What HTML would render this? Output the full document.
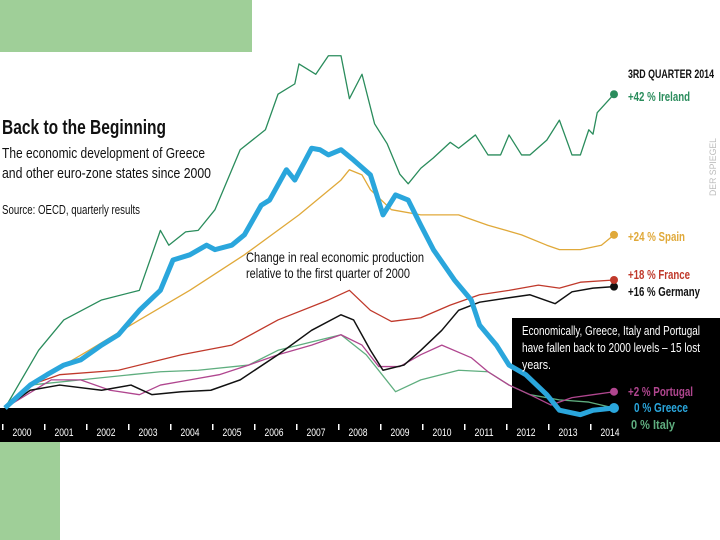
<!DOCTYPE html>
<html><head><meta charset="utf-8">
<style>
html,body{margin:0;padding:0;background:#fff;}
body{width:720px;height:540px;overflow:hidden;position:relative;font-family:"Liberation Sans Narrow","Liberation Sans",sans-serif;}
svg{position:absolute;left:0;top:0;}
</style></head>
<body>
<svg id="chart" width="720" height="540">
  <rect x="0" y="0" width="252" height="52" fill="#9fcf98"/>
  <rect x="0" y="440" width="60" height="100" fill="#9fcf98"/>
  <rect x="512" y="318" width="208" height="122" fill="#000"/>
  <rect x="0" y="408" width="720" height="34" fill="#000"/>
  <g id="lines"></g>
  <g id="xticks"></g>
  <text x="2" y="134" font-size="20" font-weight="bold" fill="#111" textLength="164" lengthAdjust="spacingAndGlyphs">Back to the Beginning</text>
  <text x="2" y="158" font-size="15" fill="#111" textLength="203" lengthAdjust="spacingAndGlyphs">The economic development of Greece</text>
  <text x="2" y="178" font-size="15" fill="#111" textLength="209" lengthAdjust="spacingAndGlyphs">and other euro-zone states since 2000</text>
  <text x="2" y="214" font-size="12.5" fill="#111" textLength="138" lengthAdjust="spacingAndGlyphs">Source: OECD, quarterly results</text>
  <text x="246" y="262" font-size="14" fill="#111" textLength="178" lengthAdjust="spacingAndGlyphs">Change in real economic production</text>
  <text x="246" y="278" font-size="14" fill="#111" textLength="164" lengthAdjust="spacingAndGlyphs">relative to the first quarter of 2000</text>
  <text x="628" y="78" font-size="11.5" font-weight="bold" fill="#111" textLength="86" lengthAdjust="spacingAndGlyphs">3RD QUARTER 2014</text>
  <text x="522" y="335" font-size="13" fill="#fff" textLength="178" lengthAdjust="spacingAndGlyphs">Economically, Greece, Italy and Portugal</text>
  <text x="522" y="352" font-size="13" fill="#fff" textLength="178" lengthAdjust="spacingAndGlyphs">have fallen back to 2000 levels – 15 lost</text>
  <text x="522" y="369" font-size="13" fill="#fff" textLength="29" lengthAdjust="spacingAndGlyphs">years.</text>
  <text x="0" y="0" font-size="9" fill="#bbb" transform="translate(716,196) rotate(-90)" textLength="58" lengthAdjust="spacingAndGlyphs">DER SPIEGEL</text>
  <g id="labels"></g>
</svg>
<script>
const years=[2000,2001,2002,2003,2004,2005,2006,2007,2008,2009,2010,2011,2012,2013,2014];
const seriesNames=["Italy","Portugal","Germany","France","Spain","Ireland","Greece"];
const irelandX=[2000,2000.8,2001.4,2002.3,2003.2,2003.7,2003.9,2004.3,2004.6,2005,2005.2,2005.6,2006.2,2006.5,2006.9,2007,2007.4,2007.7,2008,2008.2,2008.5,2008.8,2009.1,2009.4,2009.6,2009.9,2010.2,2010.6,2010.8,2011.2,2011.5,2011.8,2012,2012.3,2012.5,2012.9,2013.2,2013.5,2013.7,2013.9,2014,2014.1,2014.5];
const irelandY=[0,7.8,11.9,14.6,15.9,24,22,23.8,24,26.8,29.5,34.9,37.6,42.4,43.8,46.5,45.1,47.6,47.6,41.8,45.1,38.4,35.7,31.6,30.3,32.4,33.8,35.9,35.1,36.9,34.2,34.2,36.9,34.2,34.2,36.2,38.9,34.2,34.2,37.6,37,39.9,42.4];
const greeceX=[2000,2000.6,2001,2001.4,2001.8,2002.3,2002.7,2003.2,2003.7,2004,2004.4,2004.8,2005,2005.4,2005.7,2006.1,2006.3,2006.7,2006.9,2007.3,2007.5,2007.7,2008,2008.3,2008.7,2009,2009.3,2009.6,2009.9,2010.2,2010.7,2011.1,2011.3,2011.7,2012,2012.4,2012.9,2013.2,2013.7,2014,2014.5];
const greeceY=[0,3.1,4.5,5.8,6.5,8.5,9.9,13.2,15.9,20,20.7,22,21.4,22,23.4,27.4,28.1,32.2,30.8,35.1,34.9,34.2,34.9,33.5,31.5,26.1,28.8,28.1,24.7,21.4,17.3,14.6,11.2,8.5,5.8,4.5,1.8,-0.3,-0.9,-0.3,0];
const spainX=[2000,2000.8,2002,2003.2,2004.4,2005.7,2007,2008,2008.2,2008.5,2008.7,2009.2,2009.9,2010.8,2011.5,2012.3,2012.9,2013.2,2013.7,2014.2,2014.5];
const spainY=[0,3.8,7.8,11.9,15.9,20.7,26.1,30.8,32.2,31.5,29.5,26.8,26.1,26.1,24.7,23.4,22,21.4,21.4,22,23.4];
const franceX=[2000,2000.6,2001.3,2002.7,2004.2,2005.4,2006.5,2007.7,2008.2,2008.7,2009.2,2009.9,2010.6,2011.3,2012,2012.7,2013.2,2013.7,2014.5];
const franceY=[0,3.1,4.5,5.1,7.2,8.5,11.9,14.6,15.9,13.2,11.7,12.2,13.9,15.3,15.9,16.6,16.2,17,17.3];
const germanyX=[2000,2000.6,2001.3,2002.3,2003,2003.5,2004.2,2004.9,2005.6,2006.5,2007.3,2008,2008.3,2008.7,2009,2009.5,2009.9,2010.4,2010.8,2011.3,2012,2012.5,2013.1,2013.5,2014,2014.5];
const germanyY=[0,2.4,3.1,2.4,3.1,1.8,2.2,2.4,3.8,7.2,10.5,12.6,11.9,7.8,5.1,5.8,7.8,10.5,13.2,14.3,14.9,15.3,14.1,15.7,16.2,16.4];
const portugalX=[2000,2001.1,2001.8,2002.5,2003.2,2003.7,2004.4,2005.1,2005.8,2006.5,2007.3,2008,2008.5,2008.9,2009.4,2009.9,2010.4,2011.1,2011.5,2012,2012.5,2013,2013.5,2014,2014.5];
const portugalY=[0,3.8,3.8,2.4,1.8,3.1,3.8,4.5,5.8,7.2,8.5,9.9,8.5,5.6,5.6,7.2,8.5,6.8,4.9,3.1,1.8,0.4,1.4,1.8,2.2];
const italyX=[2000,2000.6,2001.8,2003,2003.7,2004.6,2005.8,2006.5,2007.5,2008,2008.6,2009.3,2009.9,2010.8,2011.5,2012,2012.5,2013.2,2013.9,2014.5];
const italyY=[0,3.1,3.8,4.5,4.9,5.1,5.8,7.8,9.2,9.9,7.2,2.2,3.8,5.1,4.9,3.1,1.8,1.1,0.8,0];
const finalLabels=["0 % Italy","+2 % Portugal","+16 % Germany","+18 % France","+24 % Spain","+42 % Ireland","0 % Greece"];

const NS="http://www.w3.org/2000/svg";
function xs(yr){return 5+(yr-2000)*42;}
function ys(v){return 408-v*7.4;}
const series=[
 {x:italyX,y:italyY,c:"#5fae7f",w:1.3,lx:631,ly:429,lw:44},
 {x:portugalX,y:portugalY,c:"#b0468f",w:1.3,lx:628,ly:396,lw:65},
 {x:germanyX,y:germanyY,c:"#111",w:1.5,lx:628,ly:296,lw:72},
 {x:franceX,y:franceY,c:"#c0392b",w:1.3,lx:628,ly:279,lw:62},
 {x:spainX,y:spainY,c:"#e0a93a",w:1.3,lx:628,ly:241,lw:57},
 {x:irelandX,y:irelandY,c:"#2a8c5c",w:1.3,lx:628,ly:101,lw:62},
 {x:greeceX,y:greeceY,c:"#2aa6dc",w:5,lx:634,ly:412,lw:54}
];
const lg=document.getElementById('lines');
const lb=document.getElementById('labels');
series.forEach((s,i)=>{
  const p=document.createElementNS(NS,'polyline');
  p.setAttribute('points',s.x.map((xx,j)=>xs(xx)+','+ys(s.y[j])).join(' '));
  p.setAttribute('fill','none');p.setAttribute('stroke',s.c);p.setAttribute('stroke-width',s.w);
  p.setAttribute('stroke-linejoin','round');
  
  
  lg.appendChild(p);
  const last=s.x.length-1;
  const d=document.createElementNS(NS,'circle');
  d.setAttribute('cx',xs(s.x[last]));d.setAttribute('cy',ys(s.y[last]));
  d.setAttribute('r',i===6?5:4);d.setAttribute('fill',s.c);
  
  
  lg.appendChild(d);
  const t=document.createElementNS(NS,'text');
  t.setAttribute('x',s.lx);t.setAttribute('y',s.ly);
  t.setAttribute('font-size','13');t.setAttribute('font-weight','bold');
  t.setAttribute('fill',i===2?'#111':s.c);
  t.setAttribute('textLength',s.lw);t.setAttribute('lengthAdjust','spacingAndGlyphs');
  t.textContent=finalLabels[i];
  
  
  lb.appendChild(t);
});
const xt=document.getElementById('xticks');
years.forEach(yr=>{
  const t=document.createElementNS(NS,'text');
  t.setAttribute('x',xs(yr)+17);t.setAttribute('y',436);
  t.setAttribute('font-size','11');t.setAttribute('fill','#fff');t.setAttribute('text-anchor','middle');
  t.setAttribute('textLength','19');t.setAttribute('lengthAdjust','spacingAndGlyphs');
  t.textContent=yr;
  
  
  xt.appendChild(t);
  const m=document.createElementNS(NS,'rect');
  m.setAttribute('x',xs(yr)-3);m.setAttribute('y',424);m.setAttribute('width',1.5);m.setAttribute('height',6);
  m.setAttribute('fill','#fff');
  
  
  xt.appendChild(m);
});
</script>
</body></html>
